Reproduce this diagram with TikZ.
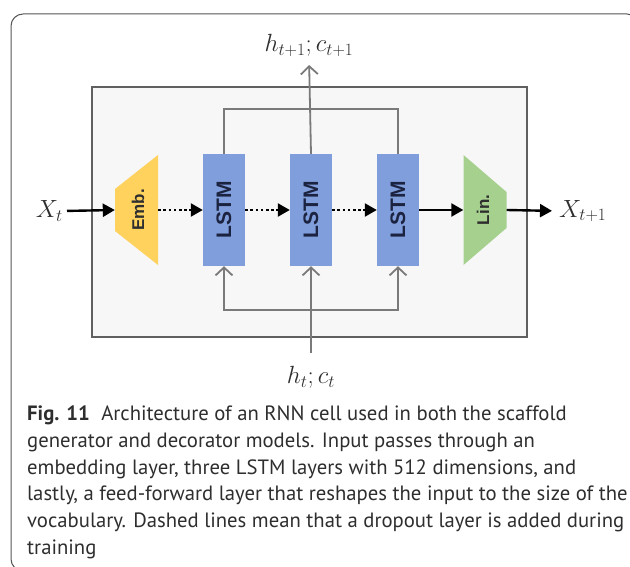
\documentclass[tikz,border=0pt]{standalone}
\usepackage[no-math]{fontspec}
\setmainfont{PT Sans}
\newfontfamily\boxfont{Liberation Sans}
\usetikzlibrary{arrows.meta}
\definecolor{framegray}{HTML}{555555}
\definecolor{boxgray}{HTML}{606060}
\definecolor{boxfill}{HTML}{F7F7F7}
\definecolor{linegray}{HTML}{7A7A7A}
\definecolor{lstmblue}{HTML}{7F9EDB}
\definecolor{embyellow}{HTML}{FFD25E}
\definecolor{lingreen}{HTML}{A6D08E}
\definecolor{txt}{HTML}{2E2E2E}
\definecolor{navy}{HTML}{1C2340}
\begin{document}
\begin{tikzpicture}[x=1pt,y=-1pt,
  gline/.style={draw=linegray, line width=1.8pt},
  garrow/.style={gline, -{Straight Barb[length=8pt,width=17pt,line width=1.8pt]}},
  barrow/.style={draw=black, line width=2.4pt, -{Triangle[length=12pt,width=13pt]}},
  darrow/.style={barrow, dash pattern=on 2.6pt off 2.6pt},
  lstm/.style={fill=lstmblue, minimum width=42pt, minimum height=112pt, inner sep=0pt},
  ghost/.style={minimum width=43pt, minimum height=110pt, inner sep=0pt},
  mathlbl/.style={text=txt, font=\fontsize{26}{30}\selectfont, inner sep=0pt},
  lstmtxt/.style={rotate=90, text=navy, font=\boxfont\bfseries\fontsize{21}{24}\selectfont},
  layertxt/.style={rotate=90, text=txt, font=\boxfont\bfseries\fontsize{17}{20}\selectfont},
  captxt/.style={anchor=base west, inner sep=0pt, text=txt, font=\fontsize{20.7}{24}\selectfont}
]
\useasboundingbox (0,0) rectangle (630,567);
\begin{scope}
  \clip (0,0) rectangle (630,567);
  \draw[framegray, line width=1pt, rounded corners=12pt] (11,14) rectangle (639,571);
\end{scope}

% cell box
\node (cell) [draw=boxgray, fill=boxfill, line width=1.2pt, minimum width=435pt, minimum height=250pt, inner sep=0pt] at (309.5,212) {};

% layers
\node (l1) [lstm] at (224,210) {};
\node (l2) [lstm] at (311,210) {};
\node (l3) [lstm] at (398,210) {};
\node (l1t) [lstmtxt] at (l1) {LSTM};
\node (l2t) [lstmtxt] at (l2) {LSTM};
\node (l3t) [lstmtxt] at (l3) {LSTM};

\node (emb) [ghost] at (136.5,210) {};
\fill[embyellow] (115,189) -- (158,155) -- (158,265) -- (115,231) -- cycle;
\node (embt) [layertxt] at (138,210) {Emb.};

\node (lin) [ghost] at (485,210) {};
\fill[lingreen] (463.5,155) -- (506.5,192) -- (506.5,228) -- (463.5,265) -- cycle;
\node (lint) [layertxt] at (483,210) {Lin.};

% labels
\node (xt) [mathlbl, anchor=east] at (63,211) {$X_t$};
\node (xt1) [mathlbl, anchor=west] at (559,211) {$X_{t+1}$};
\node (htop) [mathlbl, anchor=south] at (309,57) {$h_{t+1};c_{t+1}$};
\node (hbot) [mathlbl, anchor=north] at (311,366) {$h_t;c_t$};

% horizontal flow
\draw[barrow, shorten <=4pt] (xt.east) -- (emb.west);
\draw[darrow] (emb.east) -- (l1.west);
\draw[darrow] (l1.east) -- (l2.west);
\draw[darrow] (l2.east) -- (l3.west);
\draw[barrow] (l3.east) -- (lin.west);
\draw[barrow, shorten >=7pt] (lin.east) -- (xt1.west);

% top bus
\coordinate (topbus) at (311,109);
\draw[gline] (l1.north) |- (topbus) -| (l3.north);
\draw[garrow, shorten >=8pt] (l2.north) -- (htop.south);

% bottom bus
\coordinate (botbus) at (311,310);
\draw[garrow, shorten <=13pt] (hbot.north) -- (l2.south);
\draw[garrow] (botbus) -| (l1.south);
\draw[garrow] (botbus) -| (l3.south);

% caption
\node (cap1) [captxt] at (27,420) {\textbf{Fig. 11}\hspace{0.55em}Architecture of an RNN cell used in both the scaffold};
\node (cap2) [captxt] at (27,447) {generator and decorator models. Input passes through an};
\node (cap3) [captxt] at (27,474) {embedding layer, three LSTM layers with 512 dimensions, and};
\node (cap4) [captxt] at (27,500.5) {lastly, a feed-forward layer that reshapes the input to the size of the};
\node (cap5) [captxt] at (27,527) {vocabulary. Dashed lines mean that a dropout layer is added during};
\node (cap6) [captxt] at (27,554) {training};
\end{tikzpicture}
\end{document}
